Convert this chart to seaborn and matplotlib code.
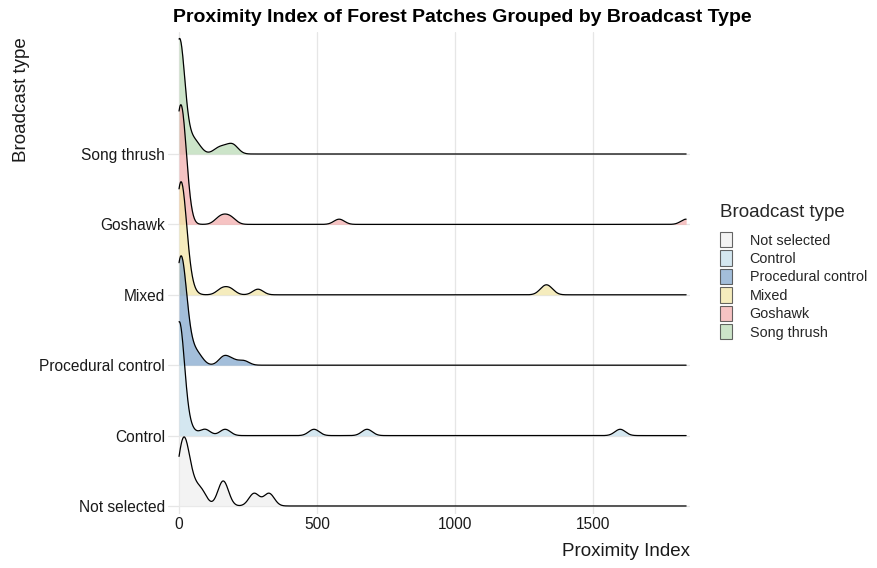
import numpy as np
import pandas as pd
import matplotlib.pyplot as plt
import seaborn as sns
from matplotlib.patches import Patch

# Broadcast types, bottom ridge first
groups = ['Not selected', 'Control', 'Procedural control', 'Mixed', 'Goshawk', 'Song thrush']
colors = ['#EFEFEF', '#C6E0EC', '#84A8CE', '#F2E6A7', '#F3AFAF', '#BCDCB7']

# Proximity index per forest patch (estimated from the ridges)
not_selected = [2, 8, 16, 20, 24, 30, 55, 83, 158, 162, 272, 326]
control = [0, 0, 0, 0, 0, 0, 0, 0, 0, 0, 1, 1, 1, 1, 2, 2, 2, 2,
           40, 94, 167, 489, 681, 1598]
procedural_control = [0, 0, 0, 0, 1, 1, 1, 2, 2, 2, 3, 3, 4, 5, 6, 7, 8, 9,
                      10, 11, 12, 14, 16, 18, 20, 22,
                      30, 40, 50, 65, 75, 160, 166, 195, 235]
mixed = [0, 0, 0, 1, 1, 2, 2, 3, 4, 5, 6, 7, 8, 9, 10, 11, 12, 14, 16, 18, 20,
         40, 155, 185, 286, 1322, 1340]
goshawk = [0, 0, 0, 0, 1, 1, 2, 2, 3, 3, 4, 5, 6, 7, 8, 9, 10, 11, 12, 13,
           14, 15, 16, 18, 145, 167, 190, 580, 1837]
song_thrush = [0, 0, 0, 0, 0, 0, 0, 0, 1, 1, 1, 1, 1, 2, 2, 2, 2, 2, 3, 3, 3, 3,
               4, 4, 4, 35, 45, 55, 70, 140, 165, 190, 200]

x_ticks = [0, 500, 1000, 1500]

df = pd.DataFrame({
    'type': np.repeat(groups, [len(v) for v in [not_selected, control, procedural_control,
                                                mixed, goshawk, song_thrush]]),
    'proximity': not_selected + control + procedural_control + mixed + goshawk + song_thrush,
})

sns.set_theme(style="whitegrid")
plt.rcParams['font.family'] = ['Liberation Sans', 'DejaVu Sans']

bw = 19.0
grid = np.linspace(df['proximity'].min(), df['proximity'].max(), 1500)


def density(values):
    v = np.asarray(values, float)
    z = (grid[:, None] - v[None, :]) / bw
    return np.exp(-0.5 * z ** 2).sum(axis=1) / (len(v) * bw * np.sqrt(2 * np.pi))


dens = {g: density(df.loc[df['type'] == g, 'proximity']) for g in groups}
scale = 1.7 / max(d.max() for d in dens.values())

fig = plt.figure(figsize=(8.77, 5.68), dpi=100)
ax = fig.add_axes([168 / 877, 1 - 514 / 568, 522 / 877, 482 / 568])

# draw top ridge first so lower ridges sit in front
for i in range(len(groups) - 1, -1, -1):
    g = groups[i]
    base = i + 1
    y = base + dens[g] * scale
    ax.fill_between(grid, base, y, color=colors[i], alpha=0.75, lw=0, zorder=2 + (6 - i) * 2)
    ax.plot(grid, y, color='black', lw=0.9, zorder=3 + (6 - i) * 2)

ax.set_xlim(-40, 1851)
ax.set_ylim(0.886, 7.733)
ax.set_xticks(x_ticks)
ax.set_yticks(range(1, len(groups) + 1))
ax.set_yticklabels(groups)
ax.grid(True, color='#E6E6E6', lw=0.9)
ax.set_axisbelow(True)
ax.set_facecolor('white')
for s in ax.spines.values():
    s.set_visible(False)
ax.tick_params(axis='both', length=0, labelsize=11.2, colors='#1a1a1a', pad=2)

ax.set_xlabel('Proximity Index', fontsize=13.5, loc='right', labelpad=8, color='#1a1a1a')
fig.text(22 / 877, 1 - 37 / 568, 'Broadcast type', rotation=90, ha='center', va='top',
         fontsize=13.5, color='#1a1a1a')
fig.text(173 / 877, 1 - 17 / 568, 'Proximity Index of Forest Patches Grouped by Broadcast Type',
         ha='left', va='center', fontsize=14, fontweight='bold', color='black')

handles = [Patch(facecolor=c, edgecolor='#333333', linewidth=0.8, alpha=0.75) for c in colors]
leg = fig.legend(handles, groups, title='Broadcast type', loc='upper left',
                 bbox_to_anchor=(720 / 877, 1 - 204 / 568), frameon=False,
                 fontsize=10.4, title_fontsize=13.5, handlelength=0.85, handleheight=1.25,
                 handletextpad=1.2, labelspacing=0.2, borderpad=0, borderaxespad=0,
                 alignment='left')
leg._legend_box.sep = 8

fig.savefig('out.png', dpi=100, facecolor='white')
